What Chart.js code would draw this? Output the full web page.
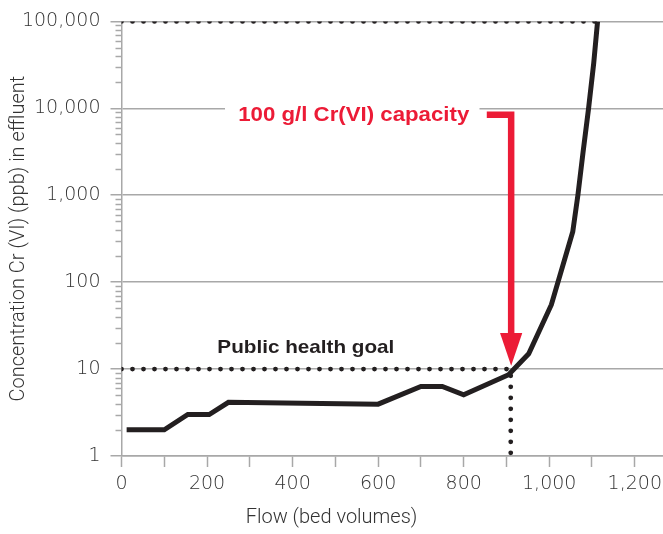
<!DOCTYPE html>
<html>
<head>
<meta charset="utf-8">
<title>Cr(VI) breakthrough</title>
<script src="https://cdn.jsdelivr.net/npm/chart.js@4.4.1/dist/chart.umd.min.js"></script>
<style>
  html, body { margin: 0; padding: 0; background: #fff; }
  #chart { display: block; }
</style>
</head>
<body>
<canvas id="chart" width="663" height="534"></canvas>
<script>
/* ================= DATA ================= */
const flowValues = [12, 100, 155, 205, 250, 600, 700, 750, 800, 905, 952, 1005, 1055, 1067, 1079, 1092, 1104, 1113];
const concValues = [2, 2, 3, 3, 4.15, 3.95, 6.3, 6.3, 5.05, 8.6, 15, 55, 380, 1000, 3100, 10000, 33000, 100000];

// dotted guide lines
const goalFlow = [0, 910, 910];
const goalConc = [10, 10, 1];
const topFlow = [0, 1113];
const topConc = [100000, 100000];

// red capacity arrow
const arrowFlow = [854, 911, 911];
const arrowConc = [8430, 8430, 26];
const headFlow = [885, 937, 911, 885];
const headConc = [26, 26, 10.9, 26];

const yTicks = [1, 10, 100, 1000, 10000, 100000];
const xTicks = [0, 100, 200, 300, 400, 500, 600, 700, 800, 900, 1000, 1100, 1200];

const capacityLabel = "100 g/l Cr(VI) capacity";
const goalLabel = "Public health goal";
const xTitle = "Flow (bed volumes)";
const yTitle = "Concentration Cr (VI) (ppb) in effluent";

/* ================= STYLE ================= */
const INK = "#231f20";
const RED = "#ec1b36";
const GRID = "#a8a8a8";
const TEXT = "#333333";
const TICK_FONT = { family: "'DejaVu Sans', Roboto, sans-serif", size: 19, weight: 200 };
const TITLE_FONT = { family: "Roboto, 'Liberation Sans', sans-serif", size: 20, weight: 300 };
const NOTE_FAMILY = "'Liberation Sans Narrow', 'Liberation Sans', Roboto, sans-serif";

const toPoints = (xs, ys) => xs.map((x, i) => ({ x: x, y: ys[i] }));

/* ================= TEXT HELPER ================= */
function drawFitted(ctx, text, cx, baseline, width, font, color) {
  ctx.save();
  ctx.font = font;
  const natural = ctx.measureText(text).width;
  ctx.translate(cx, baseline);
  ctx.scale(width / natural, 1);
  ctx.textAlign = "center";
  ctx.textBaseline = "alphabetic";
  ctx.fillStyle = color;
  ctx.fillText(text, 0, 0);
  ctx.restore();
}

/* ================= ANNOTATIONS ================= */
const annotations = {
  id: "annotations",
  beforeDatasetsDraw(chart) {
    const { ctx, chartArea } = chart;
    const x = chart.scales.x;
    const y = chart.scales.y;
    ctx.save();

    // minor log ticks on the y axis
    ctx.strokeStyle = GRID;
    ctx.lineWidth = 1.5;
    for (let d = 1; d < 100000; d *= 10) {
      for (let m = 2; m <= 9; m++) {
        const py = Math.round(y.getPixelForValue(m * d)) + 0.5;
        ctx.beginPath();
        ctx.moveTo(chartArea.left - 6, py);
        ctx.lineTo(chartArea.left, py);
        ctx.stroke();
      }
    }

    // gap in the 10,000 grid line behind the red label
    const gy = y.getPixelForValue(10000);
    const gx0 = x.getPixelForValue(242);
    const gx1 = x.getPixelForValue(837);
    ctx.fillStyle = "#fff";
    ctx.fillRect(gx0, gy - 4, gx1 - gx0, 8);
    ctx.restore();
  },
  afterDatasetsDraw(chart) {
    const { ctx } = chart;
    const x = chart.scales.x;
    const y = chart.scales.y;
    drawFitted(ctx, capacityLabel, x.getPixelForValue(543), y.getPixelForValue(7150), 231,
      "bold 21px " + NOTE_FAMILY, RED);
    drawFitted(ctx, goalLabel, x.getPixelForValue(431), y.getPixelForValue(15.5), 177,
      "bold 19px " + NOTE_FAMILY, INK);
  }
};

/* ================= CHART ================= */
const ctx = document.getElementById("chart");

const chart = new Chart(ctx, {
  type: "line",
  data: {
    datasets: [
      {
        data: toPoints(flowValues, concValues),
        borderColor: INK,
        borderWidth: 5,
        pointRadius: 0,
        tension: 0,
        order: 1
      },
      {
        data: toPoints(headFlow, headConc),
        borderWidth: 0,
        borderColor: RED,
        backgroundColor: RED,
        fill: "shape",
        pointRadius: 0,
        tension: 0,
        order: 2
      },
      {
        data: toPoints(arrowFlow, arrowConc),
        borderColor: RED,
        borderWidth: 6.5,
        borderJoinStyle: "miter",
        borderCapStyle: "butt",
        pointRadius: 0,
        tension: 0,
        order: 3
      },
      {
        data: toPoints(goalFlow, goalConc),
        borderColor: INK,
        borderWidth: 4.8,
        borderDash: [0, 11],
        borderCapStyle: "round",
        pointRadius: 0,
        tension: 0,
        order: 4
      },
      {
        data: toPoints(topFlow, topConc),
        borderColor: INK,
        borderWidth: 4.8,
        borderDash: [0, 11],
        borderCapStyle: "round",
        pointRadius: 0,
        tension: 0,
        order: 4
      }
    ]
  },
  options: {
    responsive: false,
    animation: false,
    events: [],
    layout: { padding: { top: 17, right: 0, bottom: 0, left: 0 } },
    plugins: {
      legend: { display: false },
      tooltip: { enabled: false },
      title: {
        display: true,
        position: "bottom",
        text: xTitle,
        color: TEXT,
        font: TITLE_FONT,
        padding: { top: 0, bottom: 4 }
      }
    },
    scales: {
      x: {
        type: "linear",
        min: 0,
        max: 1266,
        afterBuildTicks: (s) => { s.ticks = xTicks.map((v) => ({ value: v })); },
        afterFit: (s) => { s.height = 50; s.paddingRight = 0; },
        grid: { drawOnChartArea: false, tickLength: 11, tickColor: GRID, tickWidth: 1.5 },
        border: { color: GRID, width: 1.5 },
        ticks: {
          autoSkip: false,
          maxRotation: 0,
          padding: 6,
          color: TEXT,
          font: TICK_FONT,
          callback: (v) => (v % 200 === 0 ? v.toLocaleString("en-US") : "")
        }
      },
      y: {
        type: "logarithmic",
        min: 1,
        max: 100000,
        afterBuildTicks: (s) => { s.ticks = yTicks.map((v) => ({ value: v, major: true })); },
        afterFit: (s) => { s.width = 121.5; },
        grid: { color: GRID, lineWidth: 1.5, tickLength: 11, tickColor: GRID },
        border: { color: GRID, width: 1.5 },
        ticks: {
          autoSkip: false,
          padding: 10,
          color: TEXT,
          font: TICK_FONT,
          callback: (v) => Number(v).toLocaleString("en-US")
        },
        title: {
          display: true,
          text: yTitle,
          color: TEXT,
          font: TITLE_FONT,
          padding: { top: 7, bottom: 0 }
        }
      }
    }
  },
  plugins: [annotations]
});
</script>
</body>
</html>
